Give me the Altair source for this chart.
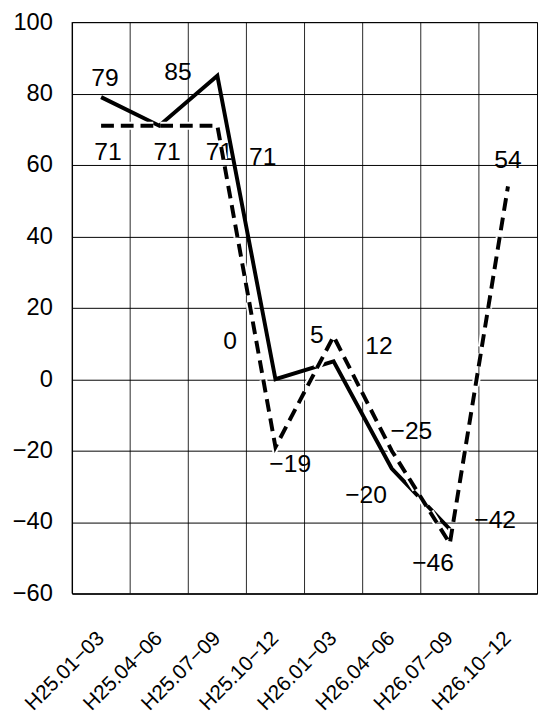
import altair as alt
import pandas as pd

# ---- data ----
categories = ["H25.01-03", "H25.04-06", "H25.07-09", "H25.10-12",
              "H26.01-03", "H26.04-06", "H26.07-09", "H26.10-12"]
solid_values = [79, 71, 85, 0, 5, -25, -42, None]
dashed_values = [71, 71, 71, -19, 12, -20, -46, 54]

# ---- label placement (pixel offsets from the point, styling only) ----
solid_label_offsets = [(4, -19), (105, 32), (-40, -4), (-46, -39),
                       (-17, -27), (20, -38), (46, -9), None]
dashed_label_offsets = [(7, 27), (8, 27), (2, 27), (15, 17),
                        (46, 10), (-26, 45), (-17, 20), (0, -27)]

FONT = "Liberation Sans"

rows = []
for i, c in enumerate(categories):
    if solid_values[i] is not None:
        rows.append({"cat": c, "series": "solid", "value": solid_values[i], "idx": i})
    if dashed_values[i] is not None:
        rows.append({"cat": c, "series": "dashed", "value": dashed_values[i], "idx": i})
df = pd.DataFrame(rows)
df["label"] = df["value"].map(lambda v: str(int(v)).replace("-", "\u2212"))

xscale = alt.Scale(type="band", domain=categories, paddingInner=0, paddingOuter=0)
yscale = alt.Scale(domain=[-60, 100], nice=False, zero=False)

x_axis = alt.Axis(labelAngle=-45, labelAlign="right", labelBaseline="middle",
                  labelFont=FONT, labelFontSize=21, labelColor="black",
                  labelPadding=42, ticks=False, grid=False,
                  labelExpr="replace(datum.label, '-', '\u2212')",
                  domainColor="black", domainWidth=1)
y_axis = alt.Axis(values=list(range(-60, 101, 20)), labelFont=FONT,
                  labelFontSize=24, labelColor="black", labelPadding=20,
                  labelExpr="replace(datum.label, '-', '\u2212')",
                  ticks=False, grid=True, gridColor="black", gridOpacity=1,
                  gridWidth=1, domainColor="black", domainWidth=1)


def X(**kw):
    return alt.X("cat:N", scale=xscale, sort=categories, title=None, axis=x_axis, **kw)


def Y():
    return alt.Y("value:Q", scale=yscale, title=None, axis=y_axis)


base = alt.Chart(df)

vgrid = base.transform_filter(alt.datum.series == "dashed").mark_rule(
    color="black", strokeWidth=1, opacity=0.85
).encode(
    x=X(bandPosition=0),
    y=alt.value(0),
    y2=alt.value(580),
)

layers = [vgrid]

for series, offsets in (("solid", solid_label_offsets), ("dashed", dashed_label_offsets)):
    for i, off in enumerate(offsets):
        if off is None:
            continue
        layers.append(
            base.transform_filter(
                (alt.datum.series == series) & (alt.datum.idx == i)
            ).mark_text(font=FONT, fontSize=25, color="black", align="center",
                        baseline="middle", dx=off[0], dy=off[1]).encode(
                x=X(), y=Y(), text="label:N",
            )
        )

solid_line = base.transform_filter(alt.datum.series == "solid").mark_line(
    color="black", strokeWidth=4, strokeJoin="miter"
).encode(x=X(), y=Y(), order="idx:Q")

halo = base.transform_filter(alt.datum.series == "dashed").mark_line(
    color="white", strokeWidth=8, strokeDash=[13, 7], strokeJoin="miter"
).encode(x=X(), y=Y(), order="idx:Q")

dashed_line = base.transform_filter(alt.datum.series == "dashed").mark_line(
    color="black", strokeWidth=4, strokeDash=[13, 7], strokeJoin="miter"
).encode(x=X(), y=Y(), order="idx:Q")

layers += [solid_line, halo, dashed_line]

chart = alt.layer(*layers).properties(
    width=472, height=580,
    autosize=alt.AutoSizeParams(type="none"),
    padding={"left": 65, "top": 9, "right": 2, "bottom": 120},
    background="white",
).configure_view(stroke="black", strokeWidth=1)

chart.save("out.html", embed_options={"renderer": "svg", "actions": False})
